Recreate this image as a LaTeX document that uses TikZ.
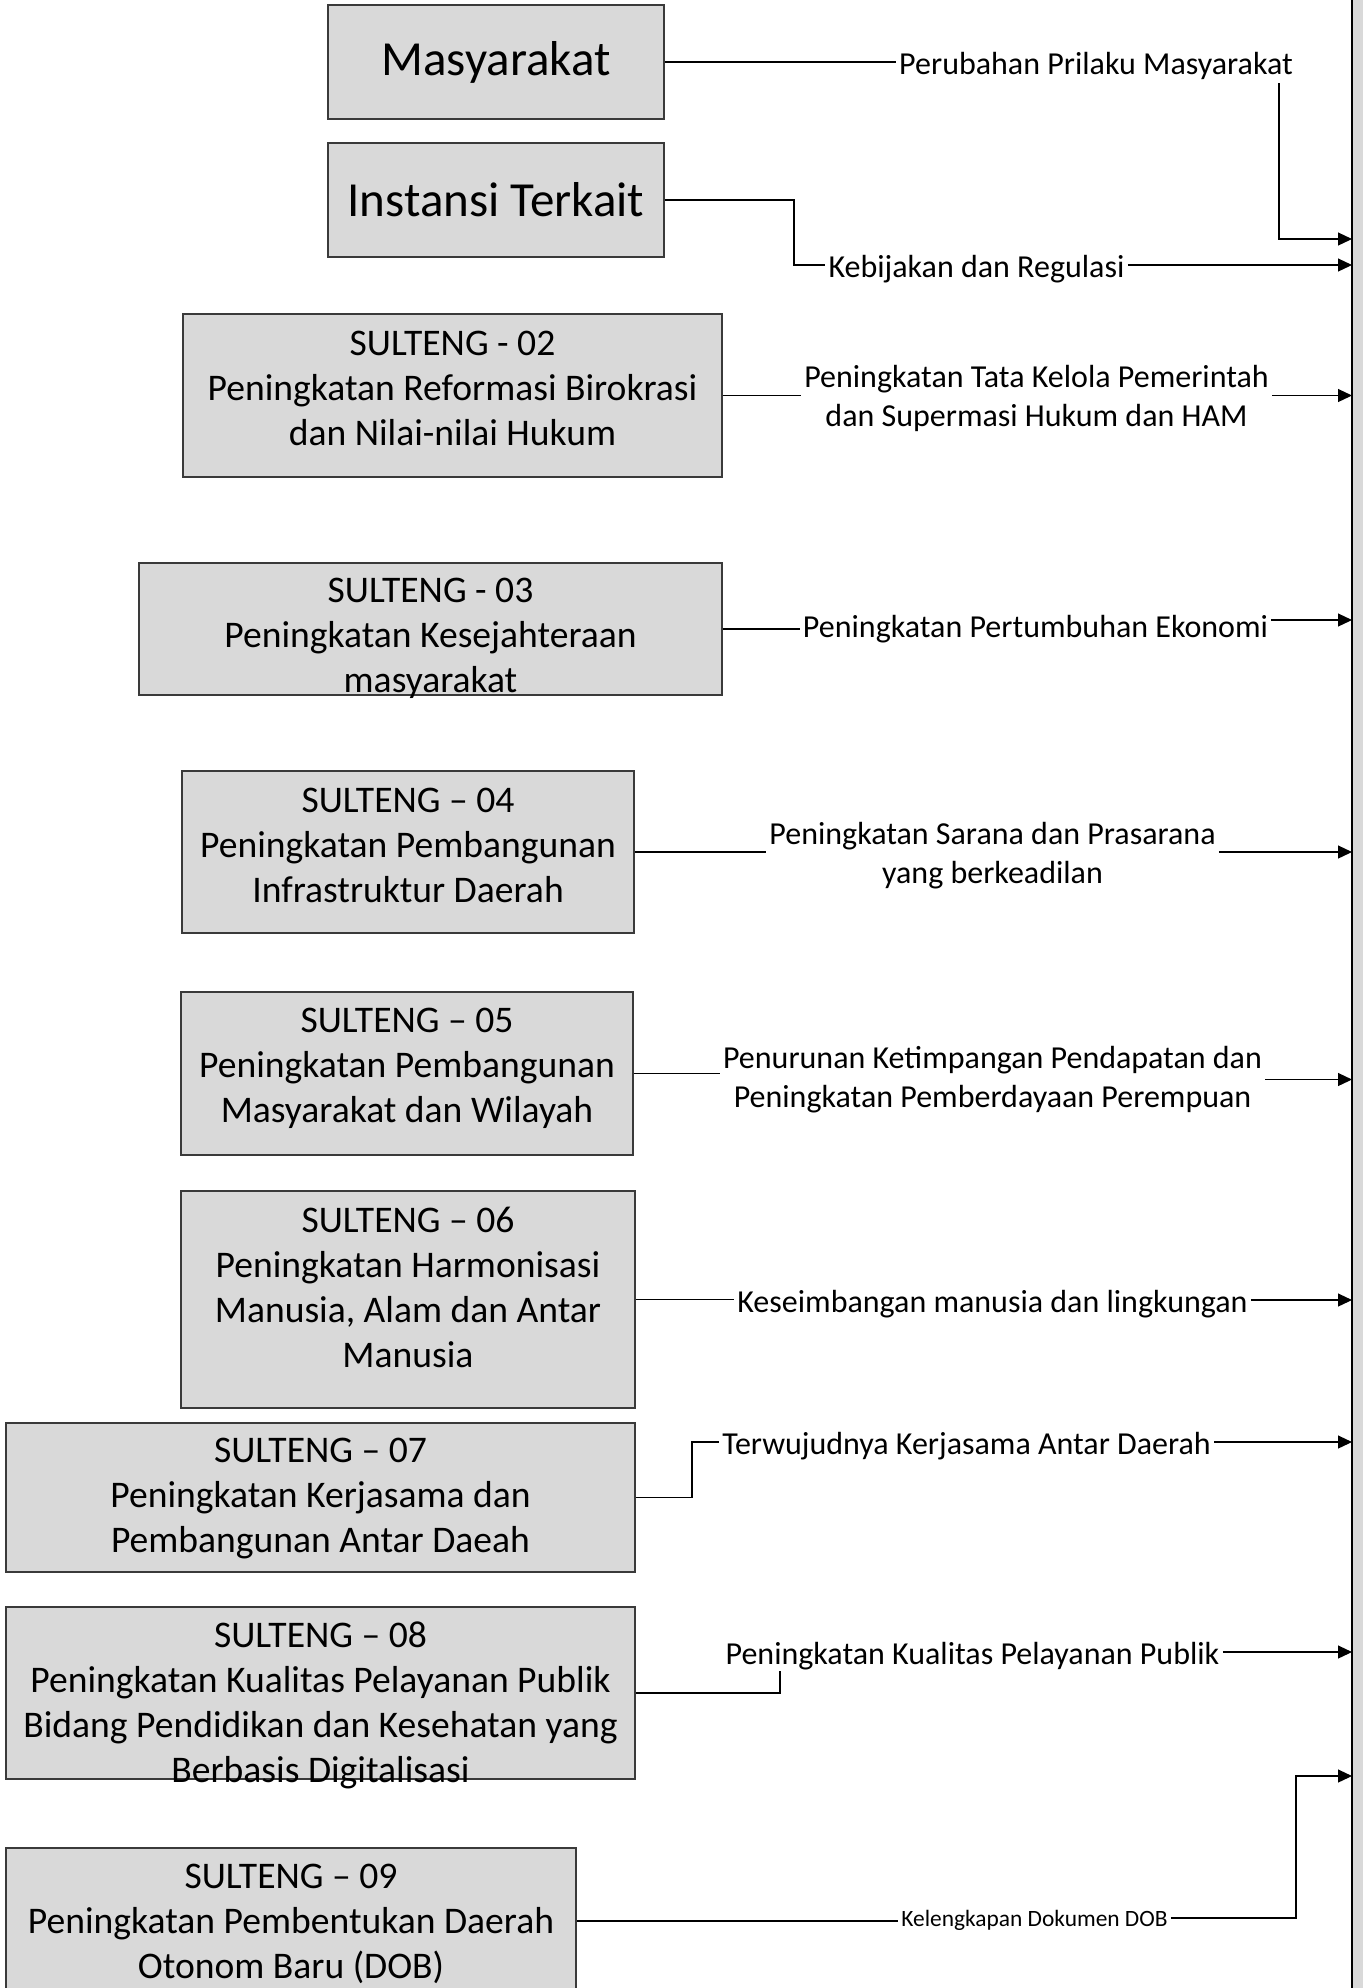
\documentclass[tikz,border=0pt]{standalone}
\usepackage{fontspec}
\setmainfont{Carlito}
\usepackage{tikz}
\usetikzlibrary{arrows.meta, positioning, calc}
\definecolor{boxgray}{HTML}{D9D9D9}
\definecolor{edgegray}{HTML}{3A3A3A}

\begin{document}
\begin{tikzpicture}[x=0.5pt, y=-0.5pt,
  goal/.style={draw=edgegray, line width=0.85pt, fill=boxgray, inner sep=0pt},
  goaltext/.style={align=center, inner sep=0pt, font=\fontsize{18.8}{22.5}\selectfont},
  actor/.style={goal, align=center, font=\fontsize{24.5}{28}\selectfont},
  outc/.style={align=center, inner sep=1.5pt, font=\fontsize{16}{19.5}\selectfont},
  outcone/.style={outc, text height=12pt, text depth=0pt},
  link/.style={line width=0.6pt},
  feed/.style={link, -{Triangle[length=7pt, width=6.5pt]}}]
  \useasboundingbox (0,0) rectangle (1362,1988);

  % Right bar
  \node[fill=boxgray, inner sep=0pt, minimum width=15pt, minimum height=1010pt,
    anchor=north west] (bar) at (1352,-10) {};
  \draw[line width=1pt] (bar.north west) -- (bar.south west);

  % Actors
  \node[actor, minimum width=168pt, minimum height=57pt] (mas) at (496,62) {Masyarakat};
  \node[actor, minimum width=168pt, minimum height=57pt] (ins) at (496,200) {Instansi Terkait};

  % Goal boxes
  \node[goal, minimum width=269.5pt, minimum height=81.5pt] (s02) at (452.5,395.5) {};
  \node[goal, minimum width=291.5pt, minimum height=66pt] (s03) at (430.5,629) {};
  \node[goal, minimum width=226pt, minimum height=81pt] (s04) at (408,852) {};
  \node[goal, minimum width=226pt, minimum height=81.5pt] (s05) at (407,1073.5) {};
  \node[goal, minimum width=227pt, minimum height=108.5pt] (s06) at (408,1299.5) {};
  \node[goal, minimum width=314.5pt, minimum height=74.5pt] (s07) at (320.5,1497.5) {};
  \node[goal, minimum width=314.5pt, minimum height=86pt] (s08) at (320.5,1693) {};
  \node[goal, minimum width=285pt, minimum height=73pt] (s09) at (291,1921) {};

  % Goal texts
  \node[goaltext, yshift=3.5pt] (t02) at (s02)
    {SULTENG - 02\\Peningkatan Reformasi Birokrasi\\dan Nilai-nilai Hukum};
  \node[goaltext, yshift=-4.5pt] (t03) at (s03)
    {SULTENG - 03\\Peningkatan Kesejahteraan\\masyarakat};
  \node[goaltext, yshift=3.5pt] (t04) at (s04)
    {SULTENG – 04\\Peningkatan Pembangunan\\Infrastruktur Daerah};
  \node[goaltext, yshift=2.75pt] (t05) at (s05)
    {SULTENG – 05\\Peningkatan Pembangunan\\Masyarakat dan Wilayah};
  \node[goaltext, yshift=6.25pt] (t06) at (s06)
    {SULTENG – 06\\Peningkatan Harmonisasi\\Manusia, Alam dan Antar\\Manusia};
  \node[goaltext, yshift=-0.5pt] (t07) at (s07)
    {SULTENG – 07\\Peningkatan Kerjasama dan\\Pembangunan Antar Daeah};
  \node[goaltext, yshift=-6pt] (t08) at (s08)
    {SULTENG – 08\\Peningkatan Kualitas Pelayanan Publik\\Bidang Pendidikan dan Kesehatan yang\\Berbasis Digitalisasi};
  \node[goaltext, yshift=-1.25pt] (t09) at (s09)
    {SULTENG – 09\\Peningkatan Pembentukan Daerah\\Otonom Baru (DOB)};

  % Outcomes
  \node[outcone] (lMas) at (1096,62) {Perubahan Prilaku Masyarakat};
  \node[outcone] (lIns) at (976.5,265) {Kebijakan dan Regulasi};
  \node[outc] (l02) at (1036.5,398.5) {Peningkatan Tata Kelola Pemerintah\\dan Supermasi Hukum dan HAM};
  \node[outcone] (l03) at (1035.5,625) {Peningkatan Pertumbuhan Ekonomi};
  \node[outc] (l04) at (992.5,856) {Peningkatan Sarana dan Prasarana\\yang berkeadilan};
  \node[outc] (l05) at (992.5,1079.5) {Penurunan Ketimpangan Pendapatan dan\\Peningkatan Pemberdayaan Perempuan};
  \node[outcone] (l06) at (992.5,1300) {Keseimbangan manusia dan lingkungan};
  \node[outcone] (l07) at (966.5,1442) {Terwujudnya Kerjasama Antar Daerah};
  \node[outcone] (l08) at (972.5,1652) {Peningkatan Kualitas Pelayanan Publik};
  \node[outc, font=\fontsize{11.7}{14}\selectfont, text height=8.5pt, text depth=0pt]
    (l09) at (1034.5,1918) {Kelengkapan Dokumen DOB};

  % Bends
  \coordinate (kMas) at (1279,239);
  \coordinate (kIns) at (794,200);
  \coordinate (k07) at (692,1442);
  \coordinate (k08) at (780,1693);
  \coordinate (k09) at (1296,1776);

  % Connectors
  \draw[link] (mas.east) -- (lMas.west);
  \draw[feed] ([yshift=-3pt]lMas.south -| kMas) -- (kMas) -- (kMas -| bar.west);
  \draw[link] (ins.east) -- (kIns) |- (lIns.west);
  \draw[feed] (lIns.east) -- (lIns.east -| bar.west);
  \draw[link] (s02.east) -- (s02.east -| l02.west);
  \draw[feed] (l02.east |- s02.east) -- (s02.east -| bar.west);
  \draw[link] (s03.east) -- (s03.east -| l03.west);
  \draw[feed] ([yshift=2.5pt]l03.east) -- ([yshift=2.5pt]l03.east -| bar.west);
  \draw[link] (s04.east) -- (s04.east -| l04.west);
  \draw[feed] (l04.east |- s04.east) -- (s04.east -| bar.west);
  \draw[link] (s05.east) -- (s05.east -| l05.west);
  \draw[feed] (l05.east) -- (l05.east -| bar.west);
  \draw[link] (s06.east) -- (s06.east -| l06.west);
  \draw[feed] (l06.east) -- (l06.east -| bar.west);
  \draw[link] (s07.east) -| (k07) -- (l07.west);
  \draw[feed] (l07.east) -- (l07.east -| bar.west);
  \draw[link] (s08.east) -- (k08) -- ([yshift=-2pt]k08 |- l08.south);
  \draw[feed] (l08.east) -- (l08.east -| bar.west);
  \draw[link] (s09.east) -- (s09.east -| l09.west);
  \draw[feed] (l09.east) -| (k09) -- (k09 -| bar.west);
\end{tikzpicture}
\end{document}
